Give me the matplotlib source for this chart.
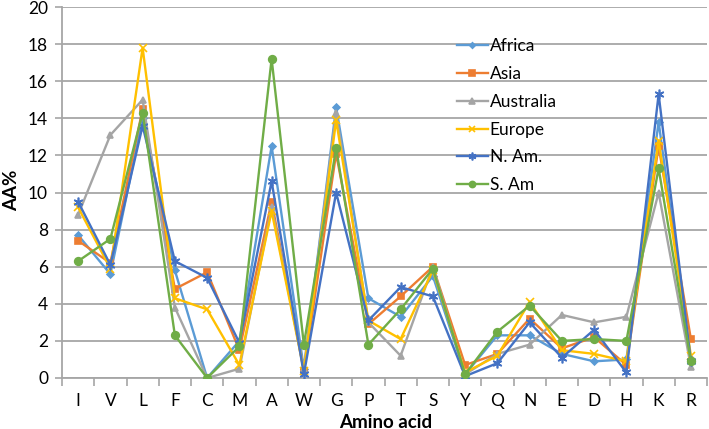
import matplotlib
matplotlib.use("Agg")
import matplotlib.pyplot as plt

plt.rcParams['font.family'] = ['Lato', 'DejaVu Sans']

amino = ["I", "V", "L", "F", "C", "M", "A", "W", "G", "P", "T", "S", "Y", "Q", "N", "E", "D", "H", "K", "R"]

africa    = [7.7, 5.6, 14.0, 5.8, 0.0, 2.0, 12.5, 0.5, 14.6, 4.3, 3.3, 5.5, 0.2, 2.3, 2.3, 1.3, 0.9, 1.0, 13.8, 1.0]
asia      = [7.4, 6.2, 14.5, 4.8, 5.7, 1.5, 9.5, 0.4, 12.1, 2.9, 4.4, 6.0, 0.7, 1.3, 3.2, 1.6, 2.2, 0.7, 12.5, 2.1]
australia = [8.8, 13.1, 15.0, 3.8, 0.0, 0.5, 9.2, 0.5, 14.3, 3.0, 1.2, 6.0, 0.2, 1.3, 1.8, 3.4, 3.0, 3.3, 10.0, 0.6]
europe    = [9.2, 5.9, 17.8, 4.3, 3.7, 0.7, 9.0, 0.4, 13.9, 3.1, 2.1, 5.8, 0.3, 1.2, 4.1, 1.5, 1.3, 0.9, 12.8, 1.2]
n_am      = [9.5, 6.1, 13.6, 6.3, 5.4, 1.9, 10.6, 0.2, 10.0, 3.1, 4.9, 4.4, 0.1, 0.8, 3.0, 1.1, 2.6, 0.3, 15.3, 0.9]
s_am      = [6.3, 7.5, 14.3, 2.3, 0.0, 1.7, 17.2, 1.8, 12.4, 1.8, 3.7, 5.9, 0.2, 2.5, 3.9, 2.0, 2.1, 2.0, 11.3, 0.9]

series_names = ["Africa", "Asia", "Australia", "Europe", "N. Am.", "S. Am"]
series_vals = [africa, asia, australia, europe, n_am, s_am]
colors = ["#5B9BD5", "#ED7D31", "#A5A5A5", "#FFC000", "#4472C4", "#70AD47"]
markers = ["D", "s", "^", "x", (6, 2, 0), "o"]
msizes = [3.5, 5, 5, 6, 7, 5.5]

fig = plt.figure(figsize=(7.09, 4.29), dpi=100)
ax = fig.add_axes([62/709, 51/429, 645/709, 371/429])

x = list(range(len(amino)))
for name, vals, c, m, ms in zip(series_names, series_vals, colors, markers, msizes):
    ax.plot(x, vals, color=c, lw=1.7, marker=m, ms=ms, mfc=c, mec=c, mew=1.2, label=name, zorder=3)

ax.set_xlim(-0.5, len(amino) - 0.5)
ax.set_ylim(0, 20)
ax.set_yticks(range(0, 21, 2))
ax.grid(axis='y', color='#A6A6A6', lw=1.3, zorder=0)
ax.set_axisbelow(True)

ax.set_xticks(x)
ax.set_xticklabels(amino, fontsize=12.5)
ax.set_xticks([i + 0.5 for i in range(-1, len(amino))], minor=True)
ax.tick_params(axis='x', which='major', length=0, pad=11)
ax.tick_params(axis='x', which='minor', length=6, color='#A6A6A6', width=1.2)
ax.tick_params(axis='y', length=5, color='#A6A6A6', width=1.2, labelsize=12.5, pad=5)

for s in ['top', 'right']:
    ax.spines[s].set_visible(False)
for s in ['left', 'bottom']:
    ax.spines[s].set_color('#A6A6A6')
    ax.spines[s].set_linewidth(1.3)

ax.set_xlabel("Amino acid", fontsize=13.5, fontweight='bold', va='center')
ax.xaxis.set_label_coords(0.502, -0.1186)
ax.set_ylabel("AA%", fontsize=13.5, fontweight='bold', va='center')
ax.yaxis.set_label_coords(-0.0775, 0.507)

leg = ax.legend(loc='center left', bbox_to_anchor=(0.612, 0.707), frameon=False,
                fontsize=12.5, labelspacing=0.68, handlelength=1.8, handletextpad=0.1,
                borderaxespad=0, borderpad=0)
for h in leg.legend_handles:
    h.set_markersize(h.get_markersize() * 0.8)

fig.savefig("out.png", dpi=100)
